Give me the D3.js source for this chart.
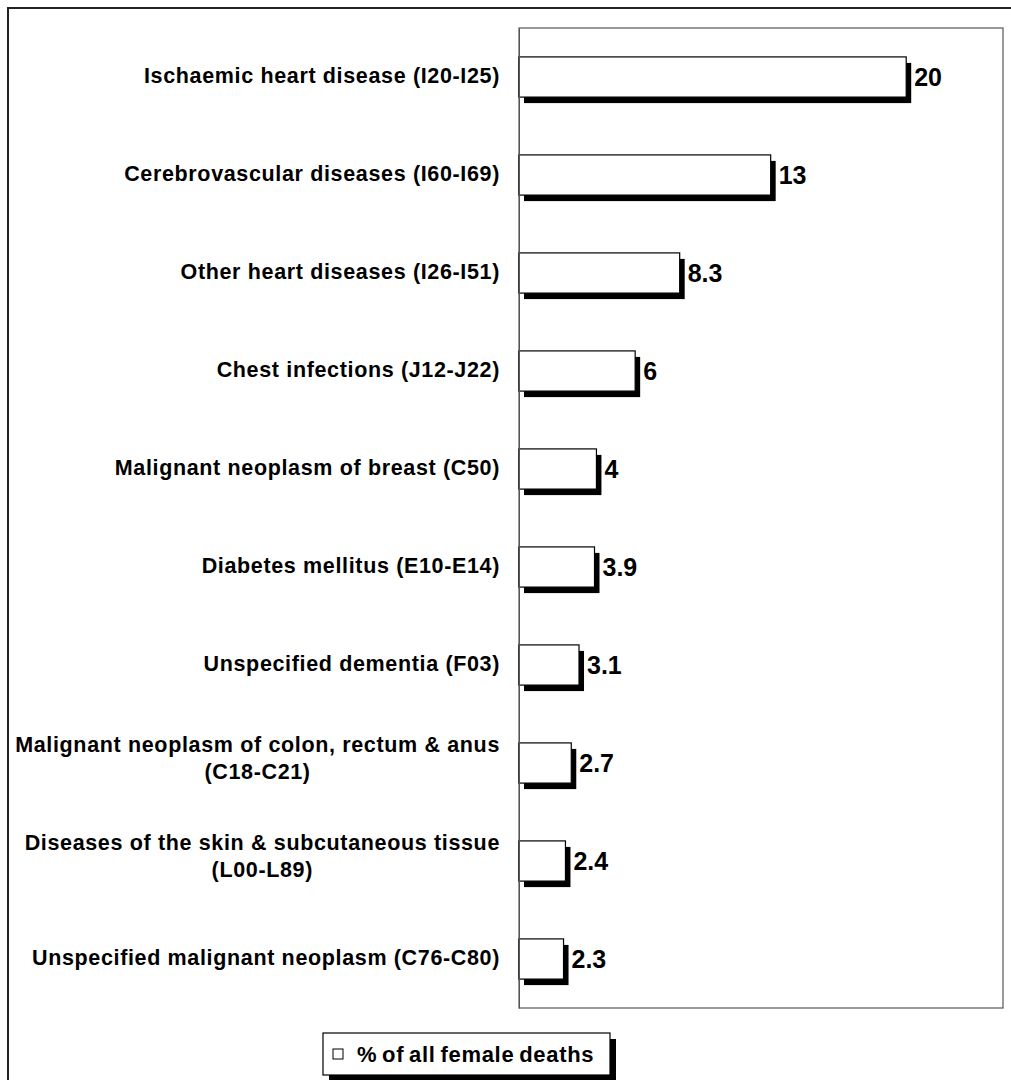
<!DOCTYPE html>
<html>
<head>
<meta charset="utf-8">
<script src="https://cdn.jsdelivr.net/npm/d3@7"></script>
<style>
  html, body { margin: 0; padding: 0; background: #fff; }
  svg { display: block; }
  text { font-family: "Liberation Sans", Arial, sans-serif; font-weight: bold; fill: #000; }
</style>
</head>
<body>
<script>
const categories = [
  "Ischaemic heart disease (I20-I25)",
  "Cerebrovascular diseases (I60-I69)",
  "Other heart diseases (I26-I51)",
  "Chest infections (J12-J22)",
  "Malignant neoplasm of breast (C50)",
  "Diabetes mellitus (E10-E14)",
  "Unspecified dementia (F03)",
  "Malignant neoplasm of colon, rectum & anus\n(C18-C21)",
  "Diseases of the skin & subcutaneous tissue\n(L00-L89)",
  "Unspecified malignant neoplasm (C76-C80)"
];
const values = [20, 13, 8.3, 6, 4, 3.9, 3.1, 2.7, 2.4, 2.3];
const valueLabels = ["20", "13", "8.3", "6", "4", "3.9", "3.1", "2.7", "2.4", "2.3"];
const seriesName = "% of all female deaths";
const xDomain = [0, 25];

const W = 1011, H = 1080;
const plot = { left: 519, top: 28, right: 1003, bottom: 1008 };

const svg = d3.select("body").append("svg").attr("width", W).attr("height", H);

// outer chart border
svg.append("rect")
  .attr("x", 8).attr("y", 8).attr("width", 1020).attr("height", 1090)
  .attr("fill", "#fff").attr("stroke", "#222").attr("stroke-width", 2);

const x = d3.scaleLinear().domain(xDomain).range([plot.left, plot.right]);
const y = d3.scaleBand().domain(categories).range([plot.top, plot.bottom])
  .paddingInner(0.59).paddingOuter(0.295);

// plot area border
svg.append("rect")
  .attr("x", plot.left).attr("y", plot.top)
  .attr("width", plot.right - plot.left).attr("height", plot.bottom - plot.top)
  .attr("fill", "none").attr("stroke", "#555").attr("stroke-width", 1.2);

const data = categories.map((c, i) => ({ c, v: values[i], lab: valueLabels[i] }));

const g = svg.append("g");
// shadows
g.selectAll("rect.shadow").data(data).enter().append("rect")
  .attr("class", "shadow")
  .attr("x", x(0) + 5).attr("y", d => y(d.c) + 6)
  .attr("width", d => x(d.v) - x(0)).attr("height", y.bandwidth())
  .attr("fill", "#000");
// bars
g.selectAll("rect.bar").data(data).enter().append("rect")
  .attr("class", "bar")
  .attr("x", x(0)).attr("y", d => y(d.c))
  .attr("width", d => x(d.v) - x(0)).attr("height", y.bandwidth())
  .attr("fill", "#fff").attr("stroke", "#000").attr("stroke-width", 1.2);

// value labels
g.selectAll("text.val").data(data).enter().append("text")
  .attr("class", "val")
  .attr("x", d => x(d.v) + 8)
  .attr("y", d => y(d.c) + y.bandwidth() / 2 + 9)
  .attr("font-size", 25)
  .text(d => d.lab);

// y axis (line only)
const yAxis = d3.axisLeft(y).tickSize(0).tickFormat("");
svg.append("g").attr("transform", `translate(${plot.left},0)`).call(yAxis)
  .call(s => s.select(".domain").attr("stroke", "#555"));

// category labels: lines centred inside a block right-aligned to the axis
const labelRight = 500, lineH = 27;
const cat = svg.append("g");
data.forEach(d => {
  const lines = d.c.split("\n");
  const cy = y(d.c) + y.bandwidth() / 2;
  const off = lines.length > 1 ? 2 : 5.5;
  const t = cat.append("text").attr("font-size", 21.5).attr("letter-spacing", 0.65);
  const tspans = lines.map((ln, i) => t.append("tspan")
    .attr("y", cy + off + (i - (lines.length - 1) / 2) * lineH).text(ln));
  const widths = tspans.map(ts => ts.node().getComputedTextLength());
  const bw = Math.max(...widths);
  tspans.forEach(ts => {
    ts.attr("x", labelRight - bw / 2).attr("text-anchor", "middle");
  });
});

// legend
const lg = { x: 323, y: 1033, w: 287, h: 42 };
svg.append("rect").attr("x", lg.x + 6).attr("y", lg.y + 6).attr("width", lg.w).attr("height", lg.h).attr("fill", "#000");
svg.append("rect").attr("x", lg.x).attr("y", lg.y).attr("width", lg.w).attr("height", lg.h)
  .attr("fill", "#fff").attr("stroke", "#000").attr("stroke-width", 1.2);
svg.append("rect").attr("x", lg.x + 10).attr("y", lg.y + lg.h / 2 - 5).attr("width", 10).attr("height", 10)
  .attr("fill", "#fff").attr("stroke", "#000").attr("stroke-width", 1);
svg.append("text").attr("x", lg.x + 34).attr("y", lg.y + lg.h / 2 + 8)
  .attr("font-size", 22).attr("letter-spacing", 0.7).attr("word-spacing", -2).text(seriesName);
</script>
</body>
</html>
